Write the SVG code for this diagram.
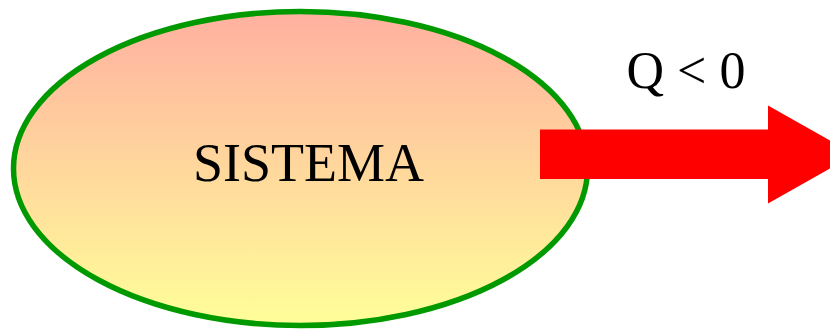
<svg xmlns="http://www.w3.org/2000/svg" width="830" height="329" viewBox="0 0 830 329">
<defs>
<linearGradient id="g" x1="0" y1="0" x2="0" y2="1">
<stop offset="0" stop-color="#FFB0A0"/>
<stop offset="1" stop-color="#FFFF99"/>
</linearGradient>
<style>
.t{font-family:"Liberation Serif","Times New Roman",serif;fill:#000;text-anchor:middle}
</style>
</defs>
<g id="sistema">
<ellipse cx="300.5" cy="168.5" rx="287" ry="157" fill="url(#g)" stroke="#009900" stroke-width="5.5"/>
<text class="t" x="308.5" y="181" font-size="54">SISTEMA</text>
</g>
<g id="connectors">
<polygon points="540,129.5 768,129.5 768,105.5 855,154.5 768,203.5 768,179 540,179" fill="#FF0000"/>
<text class="t" x="686" y="88" font-size="52">Q &lt; 0</text>
</g>
</svg>
